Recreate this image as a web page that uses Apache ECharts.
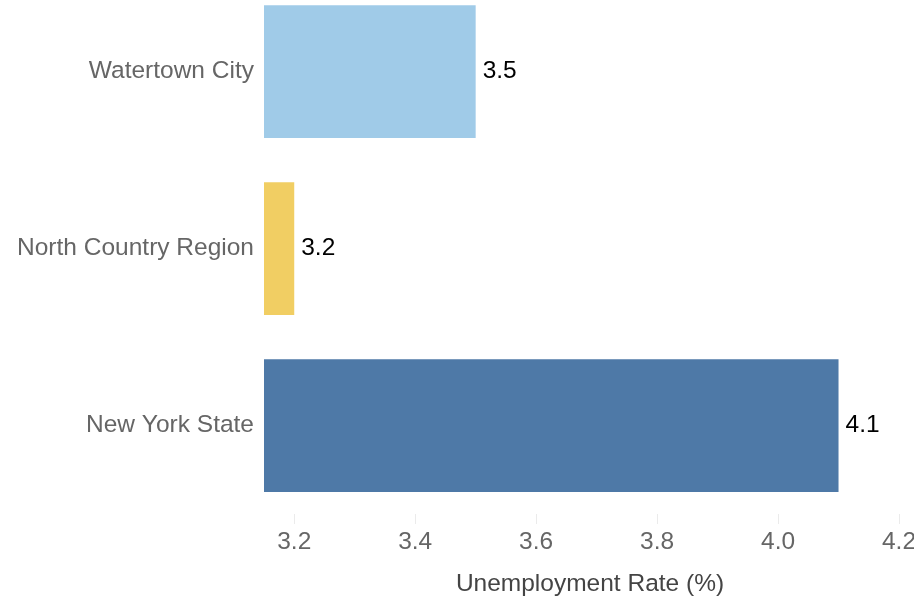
<!DOCTYPE html>
<html>
<head>
<meta charset="utf-8">
<script src="https://cdn.jsdelivr.net/npm/echarts@6/dist/echarts.min.js"></script>
<style>
  html, body { margin: 0; padding: 0; background: #fff; }
  #chart { width: 914px; height: 601px; }
</style>
</head>
<body>
<div id="chart"></div>
<script>
// data
var regions = ['Watertown City', 'North Country Region', 'New York State'];
var rates = [3.5, 3.2, 4.1];
var barColors = ['#a0cbe8', '#f1ce63', '#4e79a7'];
var xTicks = [3.2, 3.4, 3.6, 3.8, 4.0, 4.2];

var chart = echarts.init(document.getElementById('chart'));

var option = {
  animation: false,
  textStyle: { fontFamily: 'Liberation Sans, Arial, sans-serif' },
  grid: { left: 264, right: 15, top: -17, height: 531, outerBoundsMode: 'none' },
  xAxis: {
    type: 'value',
    min: 3.15,
    max: 4.2,
    name: 'Unemployment Rate (%)',
    nameLocation: 'middle',
    nameGap: 58,
    nameTextStyle: { fontSize: 24.5, color: '#444', padding: [0, 0, 0, 17] },
    axisLine: { show: false },
    axisTick: { show: true, length: 10, customValues: xTicks, lineStyle: { color: '#ebebeb', width: 1 } },
    axisLabel: {
      customValues: xTicks,
      fontSize: 24.5,
      color: '#666',
      margin: 16,
      formatter: function (v) { return v.toFixed(1); }
    },
    splitLine: { show: false }
  },
  yAxis: {
    type: 'category',
    data: regions,
    inverse: true,
    axisLine: { show: false },
    axisTick: { show: false },
    axisLabel: { fontSize: 24.5, color: '#666', margin: 10 }
  },
  series: [{
    type: 'bar',
    barCategoryGap: '25%',
    data: rates.map(function (v, i) {
      return { value: v, itemStyle: { color: barColors[i] } };
    }),
    label: {
      show: true,
      position: 'right',
      distance: 7,
      fontSize: 24.5,
      color: '#000',
      formatter: function (p) { return p.value.toFixed(1); }
    }
  }]
};

chart.setOption(option);
</script>
</body>
</html>
